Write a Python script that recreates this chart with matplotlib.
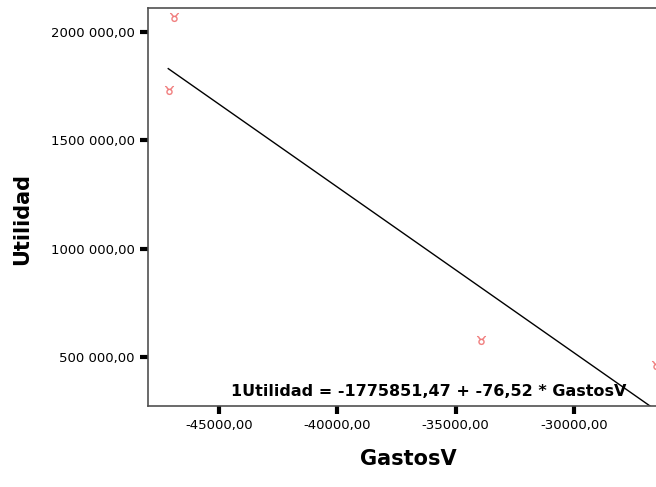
import matplotlib

matplotlib.use("Agg")
import matplotlib.pyplot as plt
import numpy as np
from matplotlib.ticker import FuncFormatter

plt.rcParams["font.family"] = ["DejaVu Sans"]

# observed points (GastosV, Utilidad)
gastos = [-47094, -46880, -33932, -26538]
utilidad = [1732000, 2069000, 578000, 463000]

# fitted regression
intercept = -1775851.47
slope = -76.52
fit_x = [-47136, -26300]

x_ticks = [-45000, -40000, -35000, -30000]
y_ticks = [500000, 1000000, 1500000, 2000000]


def fmt_y(v, pos):
    s = f"{int(round(v)):,}".replace(",", " ")
    # SPSS style grouping: "2000 000,00"
    if v >= 1000000:
        s = s.replace(" ", "", 1)
    return s + ",00"


fig = plt.figure(figsize=(6.56, 4.87), dpi=100)
ax = fig.add_axes([148 / 656, 81 / 487, 1.02 - 148 / 656, 398 / 487])

ax.scatter(gastos, utilidad, marker="$\u2649$", s=40, color="#f07878",
           linewidths=0.3, zorder=3)

lx = np.linspace(fit_x[0], fit_x[1], 300)
ax.plot(lx, intercept + slope * lx, color="black", lw=1.0)

ax.set_xlim(-47991, -26282 + 300)
ax.set_ylim(274000, 2110800)
ax.set_xticks(x_ticks)
ax.set_yticks(y_ticks)
ax.xaxis.set_major_formatter(FuncFormatter(lambda v, p: f"{int(v)},00"))
ax.yaxis.set_major_formatter(FuncFormatter(fmt_y))
ax.tick_params(direction="out", length=6, width=3, labelsize=9.5, color="black")

for side in ("left", "bottom", "top"):
    ax.spines[side].set_color("#505050")
    ax.spines[side].set_linewidth(1.2)
ax.spines["right"].set_visible(False)

ax.text(-36150, 340000, "1Utilidad = -1775851,47 + -76,52 * GastosV",
        ha="center", va="center", fontsize=11.5, fontweight="bold")

ax.set_xlabel("GastosV", fontsize=15, fontweight="bold", labelpad=12)
ax.set_ylabel("Utilidad", fontsize=15, fontweight="bold")
ax.yaxis.set_label_coords(-0.223, 0.47)

fig.savefig("out.png", dpi=100)
